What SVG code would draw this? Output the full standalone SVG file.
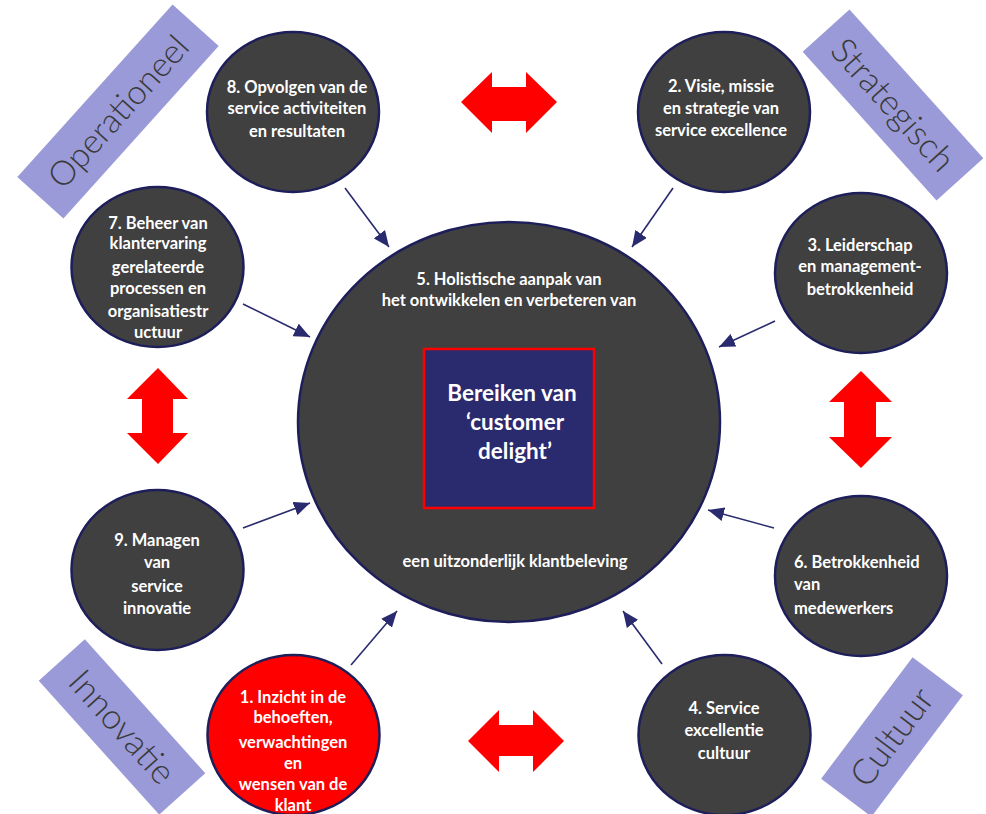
<svg xmlns="http://www.w3.org/2000/svg" width="986" height="814" viewBox="0 0 986 814">
  <style>
    .node { fill: #404040; stroke: #1e1e5a; stroke-width: 2.5; }
    .node-red { fill: #ff0000; stroke: #1e1e5a; stroke-width: 2.5; }
    .t { font-family: Lato, "Liberation Sans", sans-serif; font-weight: bold; font-size: 16.5px; fill: #ffffff; text-anchor: middle; }
    .tl { text-anchor: start; }
    .big { font-size: 22.5px; }
    .band { fill: #9a9ad8; }
    .band-t { font-family: Lato, "Open Sans", "Liberation Sans", sans-serif; font-weight: 300; fill: #3a3a3a; text-anchor: middle; }
    .link { stroke: #2a2a6e; stroke-width: 1.6; fill: none; marker-end: url(#head); }
    .dbl { fill: #ff0000; }
  </style>
  <defs>
    <marker id="head" viewBox="0 0 16 14" refX="16" refY="7" markerWidth="16" markerHeight="14" markerUnits="userSpaceOnUse" orient="auto">
      <path d="M0,0 L16,7 L0,14 Z" fill="#2a2a6e"/>
    </marker>
  </defs>
  <rect width="986" height="814" fill="#ffffff"/>

  <!-- diagonal category bands -->
  <g id="band-operationeel">
    <rect class="band" x="-116" y="-31" width="232" height="62" transform="translate(118,111.5) rotate(-48)"/>
    <text class="band-t" font-size="34" transform="translate(118,111.5) rotate(-48)" y="12">Operationeel</text>
  </g>
  <g id="band-strategisch">
    <rect class="band" x="-100" y="-31.5" width="200" height="63" transform="translate(893,105) rotate(48)"/>
    <text class="band-t" font-size="35" transform="translate(893,105) rotate(48)" y="12">Strategisch</text>
  </g>
  <g id="band-innovatie">
    <rect class="band" x="-90" y="-31" width="180" height="62" transform="translate(122,727) rotate(48)"/>
    <text class="band-t" font-size="35" transform="translate(122,727) rotate(48)" y="12">Innovatie</text>
  </g>
  <g id="band-cultuur">
    <rect class="band" x="-76" y="-31.5" width="152" height="63" transform="translate(892,737) rotate(-53)"/>
    <text class="band-t" font-size="35" transform="translate(892,737) rotate(-53)" y="12">Cultuur</text>
  </g>

  <!-- red double arrows -->
  <g id="dbl-top"><path class="dbl" d="M461,102 L492,72 L492,87 L526,87 L526,72 L557,102 L526,133 L526,121 L492,121 L492,133 Z"/></g>
  <g id="dbl-bottom"><path class="dbl" d="M468,741 L499,710 L499,725 L533,725 L533,710 L564,741 L533,772 L533,756 L499,756 L499,772 Z"/></g>
  <g id="dbl-left"><path class="dbl" d="M158,368 L188,399 L173,399 L173,433 L188,433 L158,464 L127,433 L142,433 L142,399 L127,399 Z"/></g>
  <g id="dbl-right"><path class="dbl" d="M861,371 L892,402 L876,402 L876,437 L892,437 L861,468 L829,437 L844,437 L844,402 L829,402 Z"/></g>

  <!-- central node -->
  <g id="node-5">
    <ellipse class="node" cx="509" cy="422" rx="211" ry="200"/>
    <text class="t" x="509" y="285">5. Holistische aanpak van</text>
    <text class="t" x="509" y="306">het ontwikkelen en verbeteren van</text>
    <rect x="424" y="349" width="170" height="159" fill="#2a2a6e" stroke="#ff0000" stroke-width="2.5"/>
    <text class="t big" x="512" y="401">Bereiken van</text>
    <text class="t big" x="515" y="430">‘customer</text>
    <text class="t big" x="515" y="459">delight’</text>
    <text class="t" x="515" y="567">een uitzonderlijk klantbeleving</text>
  </g>

  <!-- connectors -->
  <g id="connectors">
    <line class="link" x1="345" y1="188" x2="389" y2="247"/>
    <line class="link" x1="673" y1="188" x2="632" y2="247"/>
    <line class="link" x1="243" y1="304" x2="310" y2="337"/>
    <line class="link" x1="775" y1="321" x2="719" y2="347"/>
    <line class="link" x1="243" y1="528" x2="310" y2="503"/>
    <line class="link" x1="351" y1="665" x2="397" y2="611"/>
    <line class="link" x1="774" y1="528" x2="708" y2="510"/>
    <line class="link" x1="662" y1="664" x2="623" y2="611"/>
  </g>

  <!-- satellite nodes -->
  <g id="node-8">
    <ellipse class="node" cx="293" cy="112" rx="86" ry="80"/>
    <text class="t" x="297" y="93">8. Opvolgen van de</text>
    <text class="t" x="297" y="114">service activiteiten</text>
    <text class="t" x="297" y="137">en resultaten</text>
  </g>
  <g id="node-2">
    <ellipse class="node" cx="724" cy="112" rx="86" ry="80"/>
    <text class="t" x="721" y="92">2. Visie, missie</text>
    <text class="t" x="721" y="114">en strategie van</text>
    <text class="t" x="721" y="136">service excellence</text>
  </g>
  <g id="node-7">
    <ellipse class="node" cx="157.5" cy="267" rx="86" ry="80"/>
    <text class="t" x="158" y="229">7. Beheer van</text>
    <text class="t" x="158" y="249">klantervaring</text>
    <text class="t" x="158" y="273">gerelateerde</text>
    <text class="t" x="158" y="294">processen en</text>
    <text class="t" x="158" y="317">organisatiestr</text>
    <text class="t" x="158" y="338">uctuur</text>
  </g>
  <g id="node-3">
    <ellipse class="node" cx="861" cy="273" rx="86" ry="80"/>
    <text class="t" x="860" y="251">3. Leiderschap</text>
    <text class="t" x="860" y="272">en management-</text>
    <text class="t" x="860" y="295">betrokkenheid</text>
  </g>
  <g id="node-9">
    <ellipse class="node" cx="157.5" cy="570" rx="86" ry="80"/>
    <text class="t" x="157" y="546">9. Managen</text>
    <text class="t" x="157" y="568">van</text>
    <text class="t" x="157" y="592">service</text>
    <text class="t" x="157" y="614">innovatie</text>
  </g>
  <g id="node-6">
    <ellipse class="node" cx="861" cy="576" rx="86" ry="80"/>
    <text class="t tl" x="794" y="568">6. Betrokkenheid</text>
    <text class="t tl" x="794" y="590">van</text>
    <text class="t tl" x="794" y="614">medewerkers</text>
  </g>
  <g id="node-4">
    <ellipse class="node" cx="724.5" cy="735" rx="86" ry="80"/>
    <text class="t" x="724" y="714">4. Service</text>
    <text class="t" x="724" y="736">excellentie</text>
    <text class="t" x="724" y="759">cultuur</text>
  </g>
  <g id="node-1">
    <ellipse class="node-red" cx="293.5" cy="735" rx="86" ry="80"/>
    <text class="t" x="293" y="703">1. Inzicht in de</text>
    <text class="t" x="293" y="723">behoeften,</text>
    <text class="t" x="293" y="748">verwachtingen</text>
    <text class="t" x="293" y="769">en</text>
    <text class="t" x="293" y="790">wensen van de</text>
    <text class="t" x="293" y="811">klant</text>
  </g>
</svg>
